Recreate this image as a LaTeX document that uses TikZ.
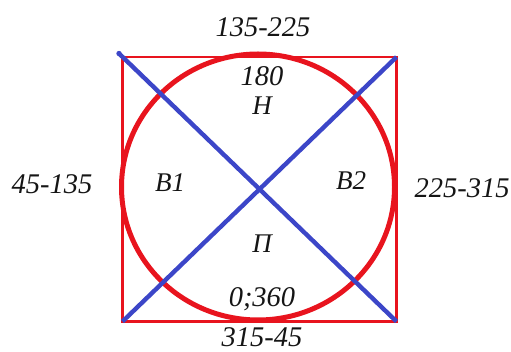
\documentclass[tikz,border=0pt]{standalone}
\usepackage{fontspec}
\setmainfont{Liberation Serif}
\usepackage{xcolor}
\definecolor{cRed}{HTML}{E8141E}
\definecolor{cBlue}{HTML}{3C46C8}
\definecolor{cText}{HTML}{151515}
\usetikzlibrary{positioning,calc}
\tikzset{
  node-label/.style={text=cText,font=\fontsize{28.5}{28.5}\selectfont\itshape,inner sep=0pt},
  node-letter/.style={text=cText,font=\fontsize{27}{27}\selectfont\itshape,inner sep=0pt},
  line-frame/.style={draw=cRed,line width=2.6pt},
  line-ring/.style={draw=cRed,line width=5pt},
  line-cross/.style={draw=cBlue,line width=4.4pt},
}
\begin{document}
\begin{tikzpicture}[x=1pt,y=-1pt]
  \useasboundingbox (0,0) rectangle (511,352);
  % frame and ring
  \coordinate (tl) at (122.5,57);
  \coordinate (br) at (396.5,321.5);
  \coordinate (tr) at (396.5,57);
  \coordinate (bl) at (122.5,321.5);
  \coordinate (c) at (258,187);
  \draw[line-frame] (tl) rectangle (br);
  \draw[line-ring] (c) ellipse [x radius=136.5, y radius=133];
  % diagonals
  \coordinate (tl0) at (119,53.5);
  \draw[line-cross] (tl0) -- (br);
  \draw[line-cross] (bl) -- (tr);
  \fill[cBlue] (tl0) circle (2.7);
  % outer labels
  \node[node-label] (top)   at (263,27)  {135-225};
  \node[node-label] (bot)   at (262,337) {315-45};
  \node[node-label] (left)  at (52,184)  {45-135};
  \node[node-label] (right) at (462,188) {225-315};
  % inner labels
  \node[node-label]  (d180) at (262,76)  {180};
  \node[node-letter] (n)    at (262,106) {Н};
  \node[node-letter] (b1)   at (170,183) {В1};
  \node[node-letter] (b2)   at (351,181) {В2};
  \node[node-letter] (p)    at (262,244) {П};
  \node[node-label]  (d0)   at (262,299) {0;360};
\end{tikzpicture}
\end{document}
